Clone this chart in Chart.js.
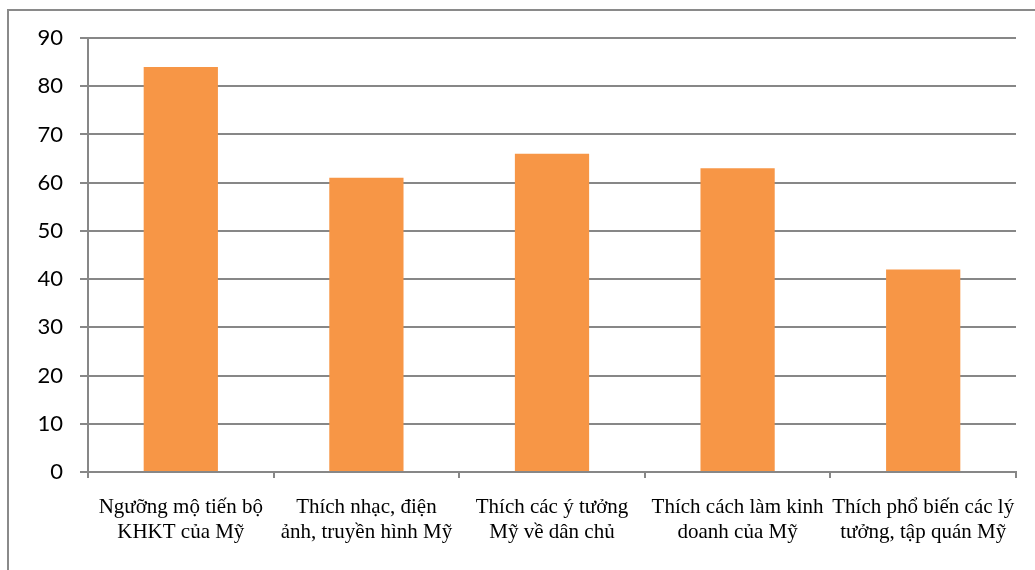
<!DOCTYPE html>
<html>
<head>
<meta charset="utf-8">
<script src="https://cdn.jsdelivr.net/npm/chart.js@4/dist/chart.umd.min.js"></script>
<style>
  html, body { margin: 0; padding: 0; background: #ffffff; }
  #wrap { position: relative; width: 1035px; height: 570px; overflow: hidden; }
  #frame {
    position: absolute; left: 7px; top: 9px; width: 1100px; height: 600px;
    border-top: 2px solid #8a8a8a; border-left: 2px solid #8a8a8a;
    box-sizing: border-box;
  }
  canvas { position: absolute; left: 0; top: 0; }
</style>
</head>
<body>
<div id="wrap">
  <div id="frame"></div>
  <canvas id="c" width="1035" height="570"></canvas>
</div>
<script>
// Categories (each label split into two lines as shown under the axis)
const categories = [
  ["Ngưỡng mộ tiến bộ", "KHKT của Mỹ"],
  ["Thích nhạc, điện", "ảnh, truyền hình Mỹ"],
  ["Thích các ý tưởng", "Mỹ về dân chủ"],
  ["Thích cách làm kinh", "doanh của Mỹ"],
  ["Thích phổ biến các lý", "tưởng, tập quán Mỹ"]
];
const values = [84, 61, 66, 63, 42];
const yTicks = [0, 10, 20, 30, 40, 50, 60, 70, 80, 90];

const axisGrey = '#878787';

new Chart(document.getElementById('c'), {
  type: 'bar',
  data: {
    labels: categories,
    datasets: [{
      data: values,
      backgroundColor: '#F79646',
      borderWidth: 0,
      categoryPercentage: 1.0,
      barPercentage: 0.4
    }]
  },
  options: {
    responsive: false,
    animation: false,
    devicePixelRatio: 1,
    layout: { padding: { left: 0, right: 19, top: 38, bottom: 0 } },
    plugins: { legend: { display: false }, tooltip: { enabled: false } },
    scales: {
      x: {
        afterFit: s => { s.height = 98; },
        grid: {
          drawOnChartArea: false,
          drawTicks: true,
          tickLength: 6,
          color: axisGrey,
          lineWidth: 2
        },
        border: { display: true, color: axisGrey, width: 2 },
        ticks: {
          color: '#000000',
          padding: 17,
          maxRotation: 0,
          autoSkip: false,
          font: { family: '"Liberation Serif", "Times New Roman", serif', size: 21, lineHeight: 1.2 }
        }
      },
      y: {
        min: 0,
        max: 90,
        afterFit: s => { s.width = 88; },
        afterBuildTicks: s => { s.ticks = yTicks.map(v => ({ value: v })); },
        grid: {
          drawTicks: true,
          tickLength: 8,
          color: axisGrey,
          lineWidth: 2
        },
        border: { display: true, color: axisGrey, width: 2 },
        ticks: {
          color: '#000000',
          padding: 17,
          font: { family: 'Lato, sans-serif', size: 22 }
        }
      }
    }
  }
});
</script>
</body>
</html>
